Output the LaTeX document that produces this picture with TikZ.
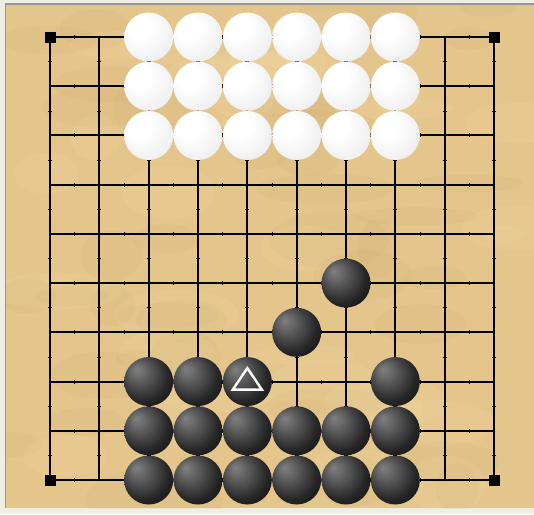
\documentclass[tikz,border=0pt]{standalone}
\usetikzlibrary{calc}
\definecolor{outerbg}{RGB}{238,238,228}
\definecolor{wood}{RGB}{228,197,140}
\definecolor{wooddark}{RGB}{196,160,104}
\definecolor{woodlight}{RGB}{244,222,170}
\definecolor{framegray}{RGB}{150,150,150}
\definecolor{wedge}{RGB}{196,196,208}
\pgfdeclareradialshading{bstoneshade}{\pgfpoint{-13bp}{13bp}}{color(0bp)=(black!50); color(8bp)=(black!60); color(26bp)=(black!85); color(40bp)=(black!96); color(50bp)=(black)}
\pgfdeclareradialshading{wstoneshade}{\pgfpoint{-13bp}{13bp}}{color(0bp)=(white); color(12bp)=(white); color(30bp)=(black!6); color(44bp)=(black!14); color(50bp)=(wedge)}
\tikzset{
  gridline/.style={line width=2pt, black},
  tickmark/.style={line width=0.6pt, black},
  corner/.style={fill=black, minimum size=11pt, inner sep=0pt, draw=none, rectangle},
  bstone/.style={circle, minimum size=49pt, inner sep=0pt, shading=bstoneshade},
  wstone/.style={circle, minimum size=49pt, inner sep=0pt, shading=wstoneshade},
  trimark/.style={draw=white, line width=2.4pt, line join=miter}
}
\begin{document}
\begin{tikzpicture}[x=1pt,y=-1pt]
\useasboundingbox (0,0) rectangle (534,514);
% outer background
\fill[outerbg] (0,0) rectangle (534,514);
% board
\fill[wood] (6,4) rectangle (534,508);
\begin{scope}
\clip (6,4) rectangle (534,508);
\pgfmathsetseed{11}
\foreach \k in {1,...,40}{
  \pgfmathsetmacro{\cx}{6+528*rnd}
  \pgfmathsetmacro{\cy}{4+504*rnd}
  \pgfmathsetmacro{\rx}{20+50*rnd}
  \pgfmathsetmacro{\ry}{8+25*rnd}
  \fill[wooddark, opacity=0.10] (\cx,\cy) ellipse [x radius=\rx, y radius=\ry];
}
\foreach \k in {1,...,30}{
  \pgfmathsetmacro{\cx}{6+528*rnd}
  \pgfmathsetmacro{\cy}{4+504*rnd}
  \pgfmathsetmacro{\rx}{20+50*rnd}
  \pgfmathsetmacro{\ry}{8+25*rnd}
  \fill[woodlight, opacity=0.15] (\cx,\cy) ellipse [x radius=\rx, y radius=\ry];
}
\end{scope}
\draw[framegray, line width=1.5pt] (5.5,508) -- (5.5,4) -- (534,4);
% grid
\foreach \i in {0,...,9}{
  \pgfmathsetmacro{\gx}{50+\i*49.333}
  \pgfmathsetmacro{\gy}{37+\i*49.222}
  \draw[gridline] (\gx,37) -- (\gx,480);
  \draw[gridline] (50,\gy) -- (494,\gy);
}
% half-step ticks
\foreach \i in {0,...,9}{
  \foreach \m in {0,...,8}{
    \pgfmathsetmacro{\gx}{50+\i*49.333}
    \pgfmathsetmacro{\gy}{37+\i*49.222}
    \pgfmathsetmacro{\mx}{50+(\m+0.5)*49.333}
    \pgfmathsetmacro{\my}{37+(\m+0.5)*49.222}
    \draw[tickmark] (\mx,\gy-2) -- (\mx,\gy+2);
    \draw[tickmark] (\gx-2,\my) -- (\gx+2,\my);
  }
}
% corner marks
\node[corner] (c1) at (50,37) {};
\node[corner] (c2) at (494,37) {};
\node[corner] (c3) at (50,480) {};
\node[corner] (c4) at (494,480) {};
% white stones
\foreach \c in {2,...,7}{
  \foreach \r in {0,1,2}{
    \node[wstone] (w\c\r) at ({50+\c*49.333},{37+\r*49.222}) {};
  }
}
% black stones
\foreach \c in {2,...,7}{
  \foreach \r in {8,9}{
    \node[bstone] (b\c\r) at ({50+\c*49.333},{37+\r*49.222}) {};
  }
}
\foreach \c in {2,3,4,7}{
  \node[bstone] (b\c7) at ({50+\c*49.333},{37+7*49.222}) {};
}
\node[bstone] (b56) at ({50+5*49.333},{37+6*49.222}) {};
\node[bstone] (b65) at ({50+6*49.333},{37+5*49.222}) {};
% triangle mark
\draw[trimark] ($(b47)+(0,-13.5)$) -- ($(b47)+(14.5,8)$) -- ($(b47)+(-14.5,8)$) -- cycle;
\end{tikzpicture}
\end{document}
